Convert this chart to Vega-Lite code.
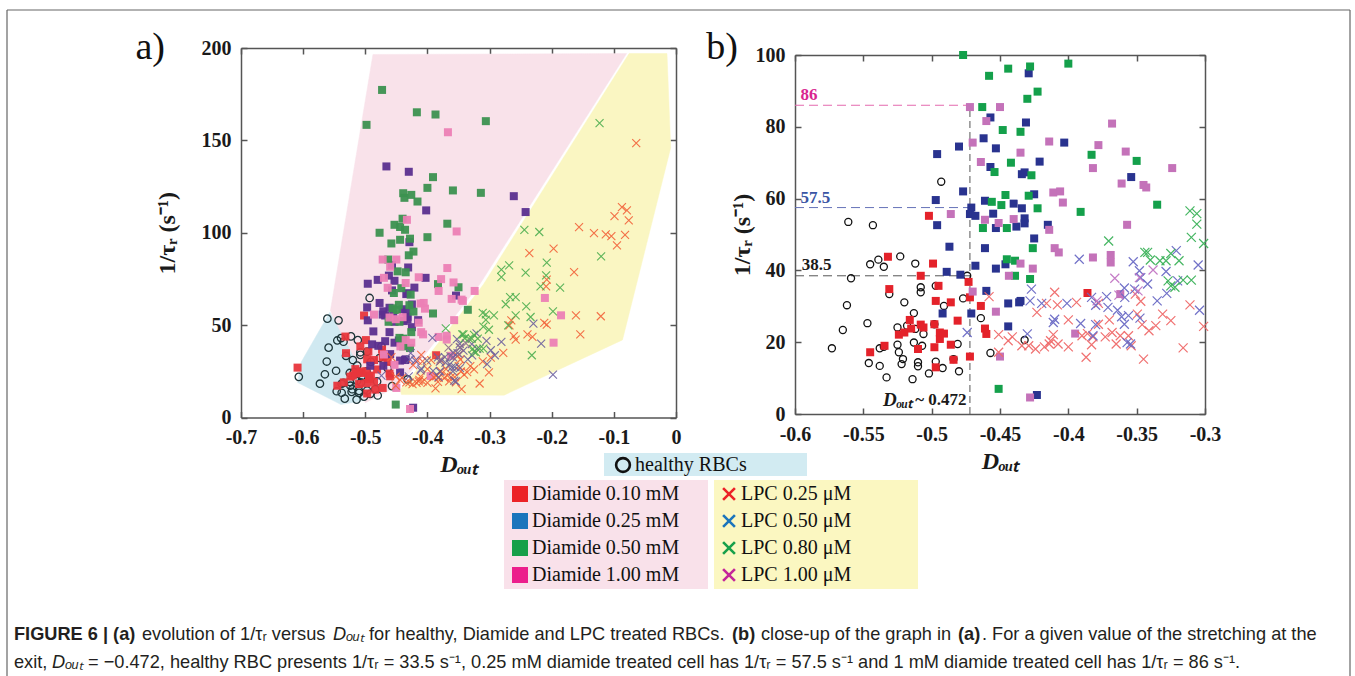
{
"$schema": "https://vega.github.io/schema/vega-lite/v6.json",
"width": 1355, "height": 676, "autosize": {"type": "none"}, "padding": 0,
"background": "white",
"config": {
  "view": {"stroke": null},
  "font": "Liberation Serif",
  "axis": {"domainColor": "#555", "domainWidth": 1.5, "tickColor": "#555", "tickWidth": 1.5, "tickSize": -6,
    "labelFont": "Liberation Serif", "labelFontSize": 20, "labelFontWeight": "bold", "labelColor": "#1a1a1a",
    "labelPadding": 16, "labelFlush": false, "labelOverlap": false, "grid": false,
    "titleFont": "Liberation Serif", "titleFontSize": 24, "titleFontWeight": "bold", "titleColor": "#1a1a1a"}
},
"datasets": {
  "regions": [
    {"r": "Diamide", "i": 0, "x": -0.4877, "y": 196.5}, {"r": "Diamide", "i": 1, "x": -0.0795, "y": 197.0},
    {"r": "Diamide", "i": 2, "x": -0.316, "y": 72}, {"r": "Diamide", "i": 3, "x": -0.404, "y": 34},
    {"r": "Diamide", "i": 4, "x": -0.447, "y": 17}, {"r": "Diamide", "i": 5, "x": -0.50, "y": 8},
    {"r": "Diamide", "i": 6, "x": -0.556, "y": 58},
    {"r": "LPC", "i": 0, "x": -0.0755, "y": 197}, {"r": "LPC", "i": 1, "x": -0.0145, "y": 197},
    {"r": "LPC", "i": 2, "x": -0.0085, "y": 146}, {"r": "LPC", "i": 3, "x": -0.0861, "y": 42},
    {"r": "LPC", "i": 4, "x": -0.2766, "y": 12.1}, {"r": "LPC", "i": 5, "x": -0.4418, "y": 12.4},
    {"r": "LPC", "i": 6, "x": -0.444, "y": 15}, {"r": "LPC", "i": 7, "x": -0.398, "y": 33.5},
    {"r": "LPC", "i": 8, "x": -0.310, "y": 72},
    {"r": "healthy", "i": 0, "x": -0.557, "y": 57}, {"r": "healthy", "i": 1, "x": -0.603, "y": 30},
    {"r": "healthy", "i": 2, "x": -0.609, "y": 19}, {"r": "healthy", "i": 3, "x": -0.539, "y": 7},
    {"r": "healthy", "i": 4, "x": -0.505, "y": 9}, {"r": "healthy", "i": 5, "x": -0.492, "y": 16}
  ],
  "pts": [
    {"s":"healthy RBCs","x":-0.573,"y":18.3},{"s":"healthy RBCs","x":-0.565,"y":23.4},{"s":"healthy RBCs","x":-0.562,"y":30.3},
    {"s":"healthy RBCs","x":-0.561,"y":53.5},{"s":"healthy RBCs","x":-0.559,"y":37.8},{"s":"healthy RBCs","x":-0.547,"y":25.3},
    {"s":"healthy RBCs","x":-0.546,"y":14.2},{"s":"healthy RBCs","x":-0.545,"y":41.7},{"s":"healthy RBCs","x":-0.543,"y":52.6},
    {"s":"healthy RBCs","x":-0.539,"y":43.0},{"s":"healthy RBCs","x":-0.538,"y":13.4},{"s":"healthy RBCs","x":-0.538,"y":18.3},
    {"s":"healthy RBCs","x":-0.535,"y":41.0},{"s":"healthy RBCs","x":-0.535,"y":18.7},{"s":"healthy RBCs","x":-0.533,"y":10.2},
    {"s":"healthy RBCs","x":-0.531,"y":33.4},{"s":"healthy RBCs","x":-0.525,"y":24.1},{"s":"healthy RBCs","x":-0.525,"y":19.3},
    {"s":"healthy RBCs","x":-0.524,"y":17.2},{"s":"healthy RBCs","x":-0.523,"y":43.9},{"s":"healthy RBCs","x":-0.522,"y":13.9},
    {"s":"healthy RBCs","x":-0.521,"y":15.3},{"s":"healthy RBCs","x":-0.520,"y":31.1},{"s":"healthy RBCs","x":-0.518,"y":24.6},
    {"s":"healthy RBCs","x":-0.514,"y":9.7},{"s":"healthy RBCs","x":-0.513,"y":19.9},{"s":"healthy RBCs","x":-0.513,"y":28.1},
    {"s":"healthy RBCs","x":-0.512,"y":41.9},{"s":"healthy RBCs","x":-0.512,"y":23.7},{"s":"healthy RBCs","x":-0.510,"y":13.3},
    {"s":"healthy RBCs","x":-0.510,"y":14.4},{"s":"healthy RBCs","x":-0.508,"y":33.9},{"s":"healthy RBCs","x":-0.508,"y":35.3},
    {"s":"healthy RBCs","x":-0.507,"y":19.0},{"s":"healthy RBCs","x":-0.506,"y":22.3},{"s":"healthy RBCs","x":-0.502,"y":11.3},
    {"s":"healthy RBCs","x":-0.498,"y":25.0},{"s":"healthy RBCs","x":-0.497,"y":35.7},{"s":"healthy RBCs","x":-0.497,"y":14.6},
    {"s":"healthy RBCs","x":-0.492,"y":12.8},{"s":"healthy RBCs","x":-0.491,"y":30.1},{"s":"healthy RBCs","x":-0.493,"y":64.7},
    {"s":"healthy RBCs","x":-0.481,"y":19.5},{"s":"healthy RBCs","x":-0.480,"y":11.9},{"s":"healthy RBCs","x":-0.477,"y":32.2},
    {"s":"healthy RBCs","x":-0.474,"y":38.5},{"s":"healthy RBCs","x":-0.464,"y":26.7},{"s":"healthy RBCs","x":-0.457,"y":17.0},
    {"s":"healthy RBCs","x":-0.432,"y":20.6},{"s":"healthy RBCs","x":-0.484,"y":15.3},{"s":"healthy RBCs","x":-0.607,"y":22.0},

    {"s":"Diamide 0.10 mM","x":-0.532,"y":43.8},{"s":"Diamide 0.10 mM","x":-0.531,"y":34.8},{"s":"Diamide 0.10 mM","x":-0.545,"y":17.2},
    {"s":"Diamide 0.10 mM","x":-0.5345,"y":19.0},{"s":"Diamide 0.10 mM","x":-0.524,"y":22.1},{"s":"Diamide 0.10 mM","x":-0.520,"y":22.7},
    {"s":"Diamide 0.10 mM","x":-0.516,"y":26.2},{"s":"Diamide 0.10 mM","x":-0.515,"y":23.8},{"s":"Diamide 0.10 mM","x":-0.510,"y":18.1},
    {"s":"Diamide 0.10 mM","x":-0.508,"y":24.9},{"s":"Diamide 0.10 mM","x":-0.506,"y":24.1},{"s":"Diamide 0.10 mM","x":-0.502,"y":55.2},
    {"s":"Diamide 0.10 mM","x":-0.499,"y":41.9},{"s":"Diamide 0.10 mM","x":-0.498,"y":25.0},{"s":"Diamide 0.10 mM","x":-0.498,"y":18.6},
    {"s":"Diamide 0.10 mM","x":-0.497,"y":31.5},{"s":"Diamide 0.10 mM","x":-0.497,"y":13.0},{"s":"Diamide 0.10 mM","x":-0.495,"y":35.7},
    {"s":"Diamide 0.10 mM","x":-0.494,"y":20.9},{"s":"Diamide 0.10 mM","x":-0.494,"y":22.7},{"s":"Diamide 0.10 mM","x":-0.491,"y":22.4},
    {"s":"Diamide 0.10 mM","x":-0.486,"y":31.1},{"s":"Diamide 0.10 mM","x":-0.486,"y":19.3},{"s":"Diamide 0.10 mM","x":-0.484,"y":15.1},
    {"s":"Diamide 0.10 mM","x":-0.481,"y":26.0},{"s":"Diamide 0.10 mM","x":-0.508,"y":38.5},{"s":"Diamide 0.10 mM","x":-0.473,"y":36.8},
    {"s":"Diamide 0.10 mM","x":-0.472,"y":32.5},{"s":"Diamide 0.10 mM","x":-0.472,"y":16.0},{"s":"Diamide 0.10 mM","x":-0.464,"y":30.1},
    {"s":"Diamide 0.10 mM","x":-0.461,"y":23.8},{"s":"Diamide 0.10 mM","x":-0.460,"y":22.3},{"s":"Diamide 0.10 mM","x":-0.386,"y":33.7},
    {"s":"Diamide 0.10 mM","x":-0.609,"y":27.0},

    {"s":"Diamide 0.25 mM","x":-0.496,"y":72.4},{"s":"Diamide 0.25 mM","x":-0.497,"y":59.6},{"s":"Diamide 0.25 mM","x":-0.496,"y":52.6},
    {"s":"Diamide 0.25 mM","x":-0.487,"y":46.6},{"s":"Diamide 0.25 mM","x":-0.489,"y":39.6},{"s":"Diamide 0.25 mM","x":-0.492,"y":28.0},
    {"s":"Diamide 0.25 mM","x":-0.480,"y":74.5},{"s":"Diamide 0.25 mM","x":-0.477,"y":62.0},{"s":"Diamide 0.25 mM","x":-0.479,"y":38.8},
    {"s":"Diamide 0.25 mM","x":-0.471,"y":57.5},{"s":"Diamide 0.25 mM","x":-0.472,"y":55.7},{"s":"Diamide 0.25 mM","x":-0.468,"y":55.2},
    {"s":"Diamide 0.25 mM","x":-0.468,"y":41.3},{"s":"Diamide 0.25 mM","x":-0.471,"y":28.0},{"s":"Diamide 0.25 mM","x":-0.462,"y":76.8},
    {"s":"Diamide 0.25 mM","x":-0.457,"y":82.6},{"s":"Diamide 0.25 mM","x":-0.461,"y":59.4},{"s":"Diamide 0.25 mM","x":-0.461,"y":46.2},
    {"s":"Diamide 0.25 mM","x":-0.460,"y":34.3},{"s":"Diamide 0.25 mM","x":-0.457,"y":68.8},{"s":"Diamide 0.25 mM","x":-0.455,"y":55.8},
    {"s":"Diamide 0.25 mM","x":-0.453,"y":51.8},{"s":"Diamide 0.25 mM","x":-0.453,"y":74.0},{"s":"Diamide 0.25 mM","x":-0.453,"y":40.5},
    {"s":"Diamide 0.25 mM","x":-0.446,"y":41.7},{"s":"Diamide 0.25 mM","x":-0.444,"y":30.8},{"s":"Diamide 0.25 mM","x":-0.444,"y":24.4},
    {"s":"Diamide 0.25 mM","x":-0.440,"y":58.6},{"s":"Diamide 0.25 mM","x":-0.438,"y":52.2},{"s":"Diamide 0.25 mM","x":-0.436,"y":31.1},
    {"s":"Diamide 0.25 mM","x":-0.435,"y":31.5},{"s":"Diamide 0.25 mM","x":-0.434,"y":57.3},{"s":"Diamide 0.25 mM","x":-0.434,"y":66.8},
    {"s":"Diamide 0.25 mM","x":-0.432,"y":67.3},{"s":"Diamide 0.25 mM","x":-0.432,"y":53.1},{"s":"Diamide 0.25 mM","x":-0.432,"y":54.5},
    {"s":"Diamide 0.25 mM","x":-0.431,"y":81.2},{"s":"Diamide 0.25 mM","x":-0.429,"y":94.9},{"s":"Diamide 0.25 mM","x":-0.425,"y":61.2},
    {"s":"Diamide 0.25 mM","x":-0.425,"y":48.9},{"s":"Diamide 0.25 mM","x":-0.421,"y":70.3},{"s":"Diamide 0.25 mM","x":-0.423,"y":5.3},
    {"s":"Diamide 0.25 mM","x":-0.415,"y":52.7},{"s":"Diamide 0.25 mM","x":-0.403,"y":75.6},{"s":"Diamide 0.25 mM","x":-0.354,"y":66.0},
    {"s":"Diamide 0.25 mM","x":-0.466,"y":135.9},{"s":"Diamide 0.25 mM","x":-0.430,"y":133.0},{"s":"Diamide 0.25 mM","x":-0.402,"y":112.1},
    {"s":"Diamide 0.25 mM","x":-0.261,"y":119.8},{"s":"Diamide 0.25 mM","x":-0.242,"y":111.2},

    {"s":"Diamide 0.50 mM","x":-0.477,"y":100.0},{"s":"Diamide 0.50 mM","x":-0.458,"y":94.2},{"s":"Diamide 0.50 mM","x":-0.444,"y":96.2},
    {"s":"Diamide 0.50 mM","x":-0.428,"y":96.8},{"s":"Diamide 0.50 mM","x":-0.400,"y":97.6},{"s":"Diamide 0.50 mM","x":-0.4225,"y":89.8},
    {"s":"Diamide 0.50 mM","x":-0.430,"y":87.8},{"s":"Diamide 0.50 mM","x":-0.463,"y":85.5},{"s":"Diamide 0.50 mM","x":-0.448,"y":79.1},
    {"s":"Diamide 0.50 mM","x":-0.435,"y":78.6},{"s":"Diamide 0.50 mM","x":-0.442,"y":70.0},{"s":"Diamide 0.50 mM","x":-0.454,"y":67.4},
    {"s":"Diamide 0.50 mM","x":-0.427,"y":66.5},{"s":"Diamide 0.50 mM","x":-0.446,"y":61.0},{"s":"Diamide 0.50 mM","x":-0.429,"y":60.8},
    {"s":"Diamide 0.50 mM","x":-0.456,"y":59.1},{"s":"Diamide 0.50 mM","x":-0.449,"y":58.2},{"s":"Diamide 0.50 mM","x":-0.4225,"y":57.3},
    {"s":"Diamide 0.50 mM","x":-0.4625,"y":51.8},{"s":"Diamide 0.50 mM","x":-0.445,"y":51.8},{"s":"Diamide 0.50 mM","x":-0.445,"y":43.1},
    {"s":"Diamide 0.50 mM","x":-0.439,"y":42.7},{"s":"Diamide 0.50 mM","x":-0.426,"y":46.2},{"s":"Diamide 0.50 mM","x":-0.439,"y":38.5},
    {"s":"Diamide 0.50 mM","x":-0.428,"y":37.6},{"s":"Diamide 0.50 mM","x":-0.451,"y":7.0},{"s":"Diamide 0.50 mM","x":-0.383,"y":72.2},
    {"s":"Diamide 0.50 mM","x":-0.350,"y":70.5},{"s":"Diamide 0.50 mM","x":-0.391,"y":56.3},{"s":"Diamide 0.50 mM","x":-0.335,"y":58.3},
    {"s":"Diamide 0.50 mM","x":-0.473,"y":177.3},{"s":"Diamide 0.50 mM","x":-0.498,"y":158.4},{"s":"Diamide 0.50 mM","x":-0.417,"y":165.2},
    {"s":"Diamide 0.50 mM","x":-0.387,"y":164.0},{"s":"Diamide 0.50 mM","x":-0.306,"y":160.4},{"s":"Diamide 0.50 mM","x":-0.391,"y":130.1},
    {"s":"Diamide 0.50 mM","x":-0.400,"y":124.3},{"s":"Diamide 0.50 mM","x":-0.359,"y":122.9},{"s":"Diamide 0.50 mM","x":-0.314,"y":121.6},
    {"s":"Diamide 0.50 mM","x":-0.439,"y":121.4},{"s":"Diamide 0.50 mM","x":-0.426,"y":120.5},{"s":"Diamide 0.50 mM","x":-0.437,"y":118.9},
    {"s":"Diamide 0.50 mM","x":-0.416,"y":116.9},{"s":"Diamide 0.50 mM","x":-0.453,"y":104.3},{"s":"Diamide 0.50 mM","x":-0.444,"y":103.1},
    {"s":"Diamide 0.50 mM","x":-0.436,"y":101.6},{"s":"Diamide 0.50 mM","x":-0.368,"y":104.9},{"s":"Diamide 0.50 mM","x":-0.440,"y":107.6},

    {"s":"Diamide 1.00 mM","x":-0.472,"y":85.5},{"s":"Diamide 1.00 mM","x":-0.450,"y":85.5},{"s":"Diamide 1.00 mM","x":-0.460,"y":81.6},
    {"s":"Diamide 1.00 mM","x":-0.470,"y":75.6},{"s":"Diamide 1.00 mM","x":-0.464,"y":70.2},{"s":"Diamide 1.00 mM","x":-0.435,"y":72.8},
    {"s":"Diamide 1.00 mM","x":-0.414,"y":75.9},{"s":"Diamide 1.00 mM","x":-0.378,"y":74.9},{"s":"Diamide 1.00 mM","x":-0.368,"y":80.9},
    {"s":"Diamide 1.00 mM","x":-0.382,"y":68.5},{"s":"Diamide 1.00 mM","x":-0.358,"y":73.1},{"s":"Diamide 1.00 mM","x":-0.324,"y":68.5},
    {"s":"Diamide 1.00 mM","x":-0.361,"y":64.2},{"s":"Diamide 1.00 mM","x":-0.345,"y":63.8},{"s":"Diamide 1.00 mM","x":-0.343,"y":63.1},
    {"s":"Diamide 1.00 mM","x":-0.411,"y":61.7},{"s":"Diamide 1.00 mM","x":-0.406,"y":62.0},{"s":"Diamide 1.00 mM","x":-0.404,"y":58.9},
    {"s":"Diamide 1.00 mM","x":-0.486,"y":55.7},{"s":"Diamide 1.00 mM","x":-0.461,"y":54.1},{"s":"Diamide 1.00 mM","x":-0.451,"y":53.2},
    {"s":"Diamide 1.00 mM","x":-0.440,"y":54.3},{"s":"Diamide 1.00 mM","x":-0.414,"y":51.3},{"s":"Diamide 1.00 mM","x":-0.357,"y":52.7},
    {"s":"Diamide 1.00 mM","x":-0.410,"y":46.2},{"s":"Diamide 1.00 mM","x":-0.407,"y":45.0},{"s":"Diamide 1.00 mM","x":-0.435,"y":41.9},
    {"s":"Diamide 1.00 mM","x":-0.426,"y":40.5},{"s":"Diamide 1.00 mM","x":-0.382,"y":43.6},{"s":"Diamide 1.00 mM","x":-0.369,"y":44.3},
    {"s":"Diamide 1.00 mM","x":-0.369,"y":42.2},{"s":"Diamide 1.00 mM","x":-0.4435,"y":38.5},{"s":"Diamide 1.00 mM","x":-0.470,"y":34.1},
    {"s":"Diamide 1.00 mM","x":-0.362,"y":33.4},{"s":"Diamide 1.00 mM","x":-0.453,"y":28.5},{"s":"Diamide 1.00 mM","x":-0.395,"y":22.4},
    {"s":"Diamide 1.00 mM","x":-0.450,"y":16.0},{"s":"Diamide 1.00 mM","x":-0.428,"y":4.6},{"s":"Diamide 1.00 mM","x":-0.367,"y":154.4},
    {"s":"Diamide 1.00 mM","x":-0.433,"y":107.0},{"s":"Diamide 1.00 mM","x":-0.353,"y":100.7},{"s":"Diamide 1.00 mM","x":-0.211,"y":64.7},
    {"s":"Diamide 1.00 mM","x":-0.185,"y":55.3},{"s":"Diamide 1.00 mM","x":-0.197,"y":40.5},

    {"s":"LPC 0.25 μM","x":-0.458,"y":32.7},{"s":"LPC 0.25 μM","x":-0.451,"y":22.1},{"s":"LPC 0.25 μM","x":-0.451,"y":17.2},
    {"s":"LPC 0.25 μM","x":-0.444,"y":20.4},{"s":"LPC 0.25 μM","x":-0.441,"y":21.5},{"s":"LPC 0.25 μM","x":-0.434,"y":19.0},
    {"s":"LPC 0.25 μM","x":-0.429,"y":19.0},{"s":"LPC 0.25 μM","x":-0.424,"y":18.1},{"s":"LPC 0.25 μM","x":-0.423,"y":28.3},
    {"s":"LPC 0.25 μM","x":-0.4175,"y":18.7},{"s":"LPC 0.25 μM","x":-0.414,"y":19.5},{"s":"LPC 0.25 μM","x":-0.416,"y":30.8},
    {"s":"LPC 0.25 μM","x":-0.413,"y":20.4},{"s":"LPC 0.25 μM","x":-0.411,"y":22.1},{"s":"LPC 0.25 μM","x":-0.410,"y":33.9},
    {"s":"LPC 0.25 μM","x":-0.408,"y":30.4},{"s":"LPC 0.25 μM","x":-0.4075,"y":19.5},{"s":"LPC 0.25 μM","x":-0.400,"y":18.7},
    {"s":"LPC 0.25 μM","x":-0.400,"y":26.2},{"s":"LPC 0.25 μM","x":-0.394,"y":31.1},{"s":"LPC 0.25 μM","x":-0.390,"y":21.8},
    {"s":"LPC 0.25 μM","x":-0.387,"y":15.8},{"s":"LPC 0.25 μM","x":-0.386,"y":22.4},{"s":"LPC 0.25 μM","x":-0.383,"y":19.3},
    {"s":"LPC 0.25 μM","x":-0.382,"y":21.5},{"s":"LPC 0.25 μM","x":-0.378,"y":25.0},{"s":"LPC 0.25 μM","x":-0.378,"y":30.8},
    {"s":"LPC 0.25 μM","x":-0.373,"y":21.5},{"s":"LPC 0.25 μM","x":-0.370,"y":26.2},{"s":"LPC 0.25 μM","x":-0.368,"y":22.7},
    {"s":"LPC 0.25 μM","x":-0.365,"y":19.5},{"s":"LPC 0.25 μM","x":-0.362,"y":21.8},{"s":"LPC 0.25 μM","x":-0.356,"y":21.8},
    {"s":"LPC 0.25 μM","x":-0.354,"y":19.0},{"s":"LPC 0.25 μM","x":-0.351,"y":33.4},{"s":"LPC 0.25 μM","x":-0.3495,"y":27.8},
    {"s":"LPC 0.25 μM","x":-0.346,"y":24.9},{"s":"LPC 0.25 μM","x":-0.347,"y":31.4},{"s":"LPC 0.25 μM","x":-0.345,"y":15.3},
    {"s":"LPC 0.25 μM","x":-0.341,"y":23.2},{"s":"LPC 0.25 μM","x":-0.336,"y":24.6},{"s":"LPC 0.25 μM","x":-0.331,"y":27.8},
    {"s":"LPC 0.25 μM","x":-0.325,"y":26.0},{"s":"LPC 0.25 μM","x":-0.316,"y":18.4},{"s":"LPC 0.25 μM","x":-0.311,"y":30.4},
    {"s":"LPC 0.25 μM","x":-0.301,"y":24.4},{"s":"LPC 0.25 μM","x":-0.156,"y":103.1},{"s":"LPC 0.25 μM","x":-0.132,"y":99.8},
    {"s":"LPC 0.25 μM","x":-0.113,"y":99.1},{"s":"LPC 0.25 μM","x":-0.104,"y":98.2},{"s":"LPC 0.25 μM","x":-0.099,"y":109.0},
    {"s":"LPC 0.25 μM","x":-0.087,"y":113.9},{"s":"LPC 0.25 μM","x":-0.079,"y":112.1},{"s":"LPC 0.25 μM","x":-0.076,"y":106.7},
    {"s":"LPC 0.25 μM","x":-0.082,"y":98.9},{"s":"LPC 0.25 μM","x":-0.095,"y":93.2},{"s":"LPC 0.25 μM","x":-0.064,"y":148.5},
    {"s":"LPC 0.25 μM","x":-0.164,"y":78.7},{"s":"LPC 0.25 μM","x":-0.197,"y":91.4},{"s":"LPC 0.25 μM","x":-0.236,"y":89.0},
    {"s":"LPC 0.25 μM","x":-0.208,"y":74.6},{"s":"LPC 0.25 μM","x":-0.209,"y":71.0},{"s":"LPC 0.25 μM","x":-0.121,"y":54.8},
    {"s":"LPC 0.25 μM","x":-0.161,"y":55.3},{"s":"LPC 0.25 μM","x":-0.154,"y":45.0},{"s":"LPC 0.25 μM","x":-0.212,"y":51.2},
    {"s":"LPC 0.25 μM","x":-0.208,"y":50.3},{"s":"LPC 0.25 μM","x":-0.265,"y":52.6},{"s":"LPC 0.25 μM","x":-0.261,"y":44.0},
    {"s":"LPC 0.25 μM","x":-0.239,"y":45.0},{"s":"LPC 0.25 μM","x":-0.231,"y":43.6},{"s":"LPC 0.25 μM","x":-0.258,"y":42.2},
    {"s":"LPC 0.25 μM","x":-0.278,"y":35.0},{"s":"LPC 0.25 μM","x":-0.298,"y":32.4},{"s":"LPC 0.25 μM","x":-0.268,"y":49.9},

    {"s":"LPC 0.50 μM","x":-0.474,"y":22.7},{"s":"LPC 0.50 μM","x":-0.427,"y":34.8},{"s":"LPC 0.50 μM","x":-0.428,"y":31.5},
    {"s":"LPC 0.50 μM","x":-0.430,"y":22.3},{"s":"LPC 0.50 μM","x":-0.4195,"y":30.8},{"s":"LPC 0.50 μM","x":-0.411,"y":25.5},
    {"s":"LPC 0.50 μM","x":-0.410,"y":26.4},{"s":"LPC 0.50 μM","x":-0.401,"y":30.8},{"s":"LPC 0.50 μM","x":-0.392,"y":43.1},
    {"s":"LPC 0.50 μM","x":-0.391,"y":25.2},{"s":"LPC 0.50 μM","x":-0.383,"y":32.5},{"s":"LPC 0.50 μM","x":-0.382,"y":21.8},
    {"s":"LPC 0.50 μM","x":-0.380,"y":24.9},{"s":"LPC 0.50 μM","x":-0.380,"y":30.3},{"s":"LPC 0.50 μM","x":-0.372,"y":32.7},
    {"s":"LPC 0.50 μM","x":-0.371,"y":29.7},{"s":"LPC 0.50 μM","x":-0.364,"y":28.9},{"s":"LPC 0.50 μM","x":-0.361,"y":27.1},
    {"s":"LPC 0.50 μM","x":-0.359,"y":25.0},{"s":"LPC 0.50 μM","x":-0.359,"y":35.1},{"s":"LPC 0.50 μM","x":-0.3587,"y":32.5},
    {"s":"LPC 0.50 μM","x":-0.357,"y":19.9},{"s":"LPC 0.50 μM","x":-0.356,"y":27.4},{"s":"LPC 0.50 μM","x":-0.3545,"y":19.5},
    {"s":"LPC 0.50 μM","x":-0.3525,"y":42.4},{"s":"LPC 0.50 μM","x":-0.3515,"y":34.8},{"s":"LPC 0.50 μM","x":-0.348,"y":39.9},
    {"s":"LPC 0.50 μM","x":-0.3476,"y":26.7},{"s":"LPC 0.50 μM","x":-0.347,"y":38.0},{"s":"LPC 0.50 μM","x":-0.342,"y":36.2},
    {"s":"LPC 0.50 μM","x":-0.335,"y":31.5},{"s":"LPC 0.50 μM","x":-0.3285,"y":39.7},{"s":"LPC 0.50 μM","x":-0.328,"y":33.6},
    {"s":"LPC 0.50 μM","x":-0.321,"y":45.5},{"s":"LPC 0.50 μM","x":-0.320,"y":37.1},{"s":"LPC 0.50 μM","x":-0.305,"y":41.5},
    {"s":"LPC 0.50 μM","x":-0.304,"y":28.9},{"s":"LPC 0.50 μM","x":-0.198,"y":23.2},{"s":"LPC 0.50 μM","x":-0.281,"y":40.9},
    {"s":"LPC 0.50 μM","x":-0.298,"y":36.4},{"s":"LPC 0.50 μM","x":-0.2915,"y":33.7},{"s":"LPC 0.50 μM","x":-0.2295,"y":50.8},
    {"s":"LPC 0.50 μM","x":-0.217,"y":40.0},

    {"s":"LPC 0.80 μM","x":-0.3705,"y":48.2},{"s":"LPC 0.80 μM","x":-0.344,"y":45.0},{"s":"LPC 0.80 μM","x":-0.342,"y":45.0},
    {"s":"LPC 0.80 μM","x":-0.340,"y":42.9},{"s":"LPC 0.80 μM","x":-0.333,"y":42.7},{"s":"LPC 0.80 μM","x":-0.3285,"y":42.7},
    {"s":"LPC 0.80 μM","x":-0.327,"y":37.1},{"s":"LPC 0.80 μM","x":-0.325,"y":35.7},{"s":"LPC 0.80 μM","x":-0.322,"y":35.3},
    {"s":"LPC 0.80 μM","x":-0.319,"y":42.7},{"s":"LPC 0.80 μM","x":-0.316,"y":37.3},{"s":"LPC 0.80 μM","x":-0.310,"y":37.3},
    {"s":"LPC 0.80 μM","x":-0.311,"y":56.6},{"s":"LPC 0.80 μM","x":-0.306,"y":55.8},{"s":"LPC 0.80 μM","x":-0.306,"y":52.9},
    {"s":"LPC 0.80 μM","x":-0.310,"y":49.2},{"s":"LPC 0.80 μM","x":-0.301,"y":47.5},{"s":"LPC 0.80 μM","x":-0.325,"y":44.7},
    {"s":"LPC 0.80 μM","x":-0.123,"y":159.3},{"s":"LPC 0.80 μM","x":-0.1205,"y":87.2},{"s":"LPC 0.80 μM","x":-0.244,"y":101.6},
    {"s":"LPC 0.80 μM","x":-0.220,"y":100.4},{"s":"LPC 0.80 μM","x":-0.208,"y":83.8},{"s":"LPC 0.80 μM","x":-0.2685,"y":82.3},
    {"s":"LPC 0.80 μM","x":-0.281,"y":80.0},{"s":"LPC 0.80 μM","x":-0.281,"y":76.0},{"s":"LPC 0.80 μM","x":-0.242,"y":78.4},
    {"s":"LPC 0.80 μM","x":-0.209,"y":76.9},{"s":"LPC 0.80 μM","x":-0.1865,"y":70.3},{"s":"LPC 0.80 μM","x":-0.218,"y":71.0},
    {"s":"LPC 0.80 μM","x":-0.267,"y":65.2},{"s":"LPC 0.80 μM","x":-0.258,"y":65.2},{"s":"LPC 0.80 μM","x":-0.274,"y":61.3},
    {"s":"LPC 0.80 μM","x":-0.241,"y":60.2},{"s":"LPC 0.80 μM","x":-0.198,"y":57.5},{"s":"LPC 0.80 μM","x":-0.234,"y":54.4},
    {"s":"LPC 0.80 μM","x":-0.258,"y":55.3},{"s":"LPC 0.80 μM","x":-0.293,"y":55.3},{"s":"LPC 0.80 μM","x":-0.270,"y":49.9},
    {"s":"LPC 0.80 μM","x":-0.232,"y":33.7},

    {"s":"LPC 1.00 μM","x":-0.366,"y":37.8},{"s":"LPC 1.00 μM","x":-0.348,"y":38.0},{"s":"LPC 1.00 μM","x":-0.338,"y":40.1},
    {"s":"LPC 1.00 μM","x":-0.363,"y":33.1},{"s":"LPC 1.00 μM","x":-0.379,"y":31.5},{"s":"LPC 1.00 μM","x":-0.349,"y":34.3}
  ]
},
"layer": [
  {
    "layer": [
      {"data": {"values": [
         {"box": "healthy", "x": 604, "x2": 807, "y": 453, "y2": 476},
         {"box": "Diamide", "x": 504, "x2": 708, "y": 480, "y2": 589},
         {"box": "LPC", "x": 714, "x2": 918, "y": 480, "y2": 589}
       ]},
       "mark": {"type": "rect"},
       "encoding": {
         "x": {"field": "x", "type": "quantitative", "scale": {"domain": [0, 1355], "range": [0, 1355], "nice": false, "zero": false}, "axis": null},
         "y": {"field": "y", "type": "quantitative", "scale": {"domain": [0, 676], "range": [0, 676], "nice": false, "zero": false}, "axis": null},
         "x2": {"field": "x2"}, "y2": {"field": "y2"},
         "color": {"field": "box", "type": "nominal", "legend": null,
                   "scale": {"domain": ["healthy", "Diamide", "LPC"], "range": ["#d2ebf2", "#f9e1ea", "#fbf7c1"]}}
       }},
      {"data": {"values": [{"x": 7, "y": 10, "x2": 1350, "y2": 10}, {"x": 7, "y": 10, "x2": 7, "y2": 676}, {"x": 1350, "y": 10, "x2": 1350, "y2": 676}]},
       "mark": {"type": "rule", "stroke": "#666666", "strokeWidth": 1.2},
       "encoding": {
         "x": {"field": "x", "type": "quantitative", "scale": {"domain": [0, 1355], "range": [0, 1355], "nice": false, "zero": false}, "axis": null},
         "y": {"field": "y", "type": "quantitative", "scale": {"domain": [0, 676], "range": [0, 676], "nice": false, "zero": false}, "axis": null},
         "x2": {"field": "x2"}, "y2": {"field": "y2"}
       }},
      {"data": {"values": [
         {"x": 142, "y": 635, "t": "evolution of 1/τᵣ versus"},
         {"x": 369, "y": 635, "t": "for healthy, Diamide and LPC treated RBCs."},
         {"x": 761, "y": 635, "t": "close-up of the graph in"},
         {"x": 982, "y": 635, "t": ". For a given value of the stretching at the"},
         {"x": 14, "y": 663, "t": "exit,"},
         {"x": 88, "y": 663, "t": "= −0.472, healthy RBC presents 1/τᵣ = 33.5 s⁻¹, 0.25 mM diamide treated cell has 1/τᵣ = 57.5 s⁻¹ and 1 mM diamide treated cell has 1/τᵣ = 86 s⁻¹."}
       ]},
       "mark": {"type": "text", "font": "Liberation Sans", "fontSize": 18.2, "align": "left", "baseline": "middle", "color": "#231f20"},
       "encoding": {
         "x": {"field": "x", "type": "quantitative", "scale": {"domain": [0, 1355], "range": [0, 1355], "nice": false, "zero": false}, "axis": null},
         "y": {"field": "y", "type": "quantitative", "scale": {"domain": [0, 676], "range": [0, 676], "nice": false, "zero": false}, "axis": null},
         "text": {"field": "t"}
       }},
      {"data": {"values": [
         {"x": 14, "y": 635, "t": "FIGURE 6 | (a)"},
         {"x": 732, "y": 635, "t": "(b)"},
         {"x": 958, "y": 635, "t": "(a)"}
       ]},
       "mark": {"type": "text", "font": "Liberation Sans", "fontSize": 18.2, "fontWeight": "bold", "align": "left", "baseline": "middle", "color": "#231f20"},
       "encoding": {
         "x": {"field": "x", "type": "quantitative", "scale": {"domain": [0, 1355], "range": [0, 1355], "nice": false, "zero": false}, "axis": null},
         "y": {"field": "y", "type": "quantitative", "scale": {"domain": [0, 676], "range": [0, 676], "nice": false, "zero": false}, "axis": null},
         "text": {"field": "t"}
       }},
      {"data": {"values": [
         {"x": 333, "y": 635, "t": "Dₒᵤₜ"},
         {"x": 52, "y": 663, "t": "Dₒᵤₜ"}
       ]},
       "mark": {"type": "text", "font": "Liberation Sans", "fontSize": 18.2, "fontStyle": "italic", "align": "left", "baseline": "middle", "color": "#231f20"},
       "encoding": {
         "x": {"field": "x", "type": "quantitative", "scale": {"domain": [0, 1355], "range": [0, 1355], "nice": false, "zero": false}, "axis": null},
         "y": {"field": "y", "type": "quantitative", "scale": {"domain": [0, 676], "range": [0, 676], "nice": false, "zero": false}, "axis": null},
         "text": {"field": "t"}
       }}
    ]
  },
  {
    "layer": [
      {"data": {"name": "regions"}, "transform": [{"filter": "datum.r == 'Diamide'"}],
       "mark": {"type": "line", "interpolate": "linear-closed", "fill": "#f9e2ea", "stroke": "#f9e2ea", "strokeWidth": 0.5},
       "encoding": {
         "x": {"field": "x", "type": "quantitative", "scale": {"domain": [-0.7, 0], "range": [241, 676], "nice": false, "zero": false},
               "axis": {"orient": "bottom", "offset": -258.5, "values": [-0.7, -0.6, -0.5, -0.4, -0.3, -0.2, -0.1, 0],
                        "labelExpr": "datum.value < 0 ? '-' + format(-datum.value, '~g') : format(datum.value, '~g')",
                        "title": "Dₒᵤₜ", "titleFontStyle": "italic", "titlePadding": 5}},
         "y": {"field": "y", "type": "quantitative", "scale": {"domain": [0, 200], "range": [417.5, 48], "nice": false, "zero": false},
               "axis": {"orient": "left", "offset": -241, "values": [0, 50, 100, 150, 200], "title": "1/τᵣ (s⁻¹)", "titlePadding": 22}},
         "order": {"field": "i", "type": "quantitative"}
       }},
      {"data": {"name": "regions"}, "transform": [{"filter": "datum.r == 'healthy'"}],
       "mark": {"type": "line", "interpolate": "linear-closed", "fill": "#d0e9f1", "stroke": "#d0e9f1", "strokeWidth": 0.5},
       "encoding": {
         "x": {"field": "x", "type": "quantitative", "scale": {"domain": [-0.7, 0], "range": [241, 676], "nice": false, "zero": false}, "axis": null},
         "y": {"field": "y", "type": "quantitative", "scale": {"domain": [0, 200], "range": [417.5, 48], "nice": false, "zero": false}, "axis": null},
         "order": {"field": "i", "type": "quantitative"}
       }},
      {"data": {"name": "regions"}, "transform": [{"filter": "datum.r == 'LPC'"}],
       "mark": {"type": "line", "interpolate": "linear-closed", "fill": "#faf6c2", "stroke": "#faf6c2", "strokeWidth": 0.5},
       "encoding": {
         "x": {"field": "x", "type": "quantitative", "scale": {"domain": [-0.7, 0], "range": [241, 676], "nice": false, "zero": false}, "axis": null},
         "y": {"field": "y", "type": "quantitative", "scale": {"domain": [0, 200], "range": [417.5, 48], "nice": false, "zero": false}, "axis": null},
         "order": {"field": "i", "type": "quantitative"}
       }},
      {"data": {"name": "pts"}, "transform": [{"filter": "datum.s == 'healthy RBCs'"}],
       "mark": {"type": "point", "shape": "circle", "filled": false, "size": 55, "strokeWidth": 1.3, "opacity": 1},
       "encoding": {
         "x": {"field": "x", "type": "quantitative", "scale": {"domain": [-0.7, 0], "range": [241, 676], "nice": false, "zero": false},
               "axis": {"orient": "top", "offset": -48, "values": [-0.7, -0.6, -0.5, -0.4, -0.3, -0.2, -0.1, 0], "labels": false, "title": null}},
         "y": {"field": "y", "type": "quantitative", "scale": {"domain": [0, 200], "range": [417.5, 48], "nice": false, "zero": false},
               "axis": {"orient": "right", "offset": -679, "values": [0, 50, 100, 150, 200], "labels": false, "title": null}},
         "color": {"field": "s", "type": "nominal", "legend": null,
                   "scale": {"domain": ["healthy RBCs", "Diamide 0.10 mM", "Diamide 0.25 mM", "Diamide 0.50 mM", "Diamide 1.00 mM", "LPC 0.25 μM", "LPC 0.50 μM", "LPC 0.80 μM", "LPC 1.00 μM"],
                             "range": ["#1d3438", "#e8363c", "#5b2f8f", "#3c9150", "#ec7fb5", "#f3623a", "#6b5f9e", "#4cae4f", "#8d6b8f"]}}
       }},
      {"data": {"name": "pts"}, "transform": [{"filter": "indexof(datum.s, 'Diamide') == 0"}],
       "mark": {"type": "square", "filled": true, "size": 64, "opacity": 0.95},
       "encoding": {
         "x": {"field": "x", "type": "quantitative", "scale": {"domain": [-0.7, 0], "range": [241, 676], "nice": false, "zero": false}, "axis": null},
         "y": {"field": "y", "type": "quantitative", "scale": {"domain": [0, 200], "range": [417.5, 48], "nice": false, "zero": false}, "axis": null},
         "color": {"field": "s", "type": "nominal", "legend": null,
                   "scale": {"domain": ["healthy RBCs", "Diamide 0.10 mM", "Diamide 0.25 mM", "Diamide 0.50 mM", "Diamide 1.00 mM", "LPC 0.25 μM", "LPC 0.50 μM", "LPC 0.80 μM", "LPC 1.00 μM"],
                             "range": ["#1d3438", "#e8363c", "#5b2f8f", "#3c9150", "#ec7fb5", "#f3623a", "#6b5f9e", "#4cae4f", "#8d6b8f"]}}
       }},
      {"data": {"name": "pts"}, "transform": [{"filter": "indexof(datum.s, 'LPC') == 0"}],
       "mark": {"type": "point", "shape": "M-1,-1L1,1M-1,1L1,-1", "filled": false, "size": 64, "strokeWidth": 1.1, "opacity": 0.9},
       "encoding": {
         "x": {"field": "x", "type": "quantitative", "scale": {"domain": [-0.7, 0], "range": [241, 676], "nice": false, "zero": false}, "axis": null},
         "y": {"field": "y", "type": "quantitative", "scale": {"domain": [0, 200], "range": [417.5, 48], "nice": false, "zero": false}, "axis": null},
         "color": {"field": "s", "type": "nominal", "legend": null,
                   "scale": {"domain": ["healthy RBCs", "Diamide 0.10 mM", "Diamide 0.25 mM", "Diamide 0.50 mM", "Diamide 1.00 mM", "LPC 0.25 μM", "LPC 0.50 μM", "LPC 0.80 μM", "LPC 1.00 μM"],
                             "range": ["#1d3438", "#e8363c", "#5b2f8f", "#3c9150", "#ec7fb5", "#f3623a", "#6b5f9e", "#4cae4f", "#8d6b8f"]}}
       }},
      {"data": {"values": [{"x": -0.846, "y": 200, "t": "a)"}]},
       "mark": {"type": "text", "font": "Liberation Serif", "fontSize": 38, "align": "center", "baseline": "middle", "color": "#111"},
       "encoding": {
         "x": {"field": "x", "type": "quantitative", "scale": {"domain": [-0.7, 0], "range": [241, 676], "nice": false, "zero": false}, "axis": null},
         "y": {"field": "y", "type": "quantitative", "scale": {"domain": [0, 200], "range": [417.5, 48], "nice": false, "zero": false}, "axis": null},
         "text": {"field": "t"}
       }}
    ],
    "resolve": {"axis": {"x": "independent", "y": "independent"}}
  },
  {
    "layer": [
      {"data": {"values": [{"x": -0.6, "x2": -0.472, "y": 86}]},
       "mark": {"type": "rule", "stroke": "#e46aae", "strokeDash": [9, 5], "strokeWidth": 1},
       "encoding": {
         "x": {"field": "x", "type": "quantitative", "scale": {"domain": [-0.6, -0.3], "range": [795, 1205], "nice": false, "zero": false},
               "axis": {"orient": "bottom", "offset": -262, "values": [-0.6, -0.55, -0.5, -0.45, -0.4, -0.35, -0.3],
                        "labelExpr": "datum.value < 0 ? '-' + format(-datum.value, '~g') : format(datum.value, '~g')",
                        "title": "Dₒᵤₜ", "titleFontStyle": "italic", "titlePadding": 5}},
         "x2": {"field": "x2"},
         "y": {"field": "y", "type": "quantitative", "scale": {"domain": [0, 100], "range": [414, 55], "nice": false, "zero": false},
               "axis": {"orient": "left", "offset": -795, "values": [0, 20, 40, 60, 80, 100], "title": "1/τᵣ (s⁻¹)", "titlePadding": 1}}
       }},
      {"data": {"values": [{"x": -0.6, "x2": -0.472, "y": 57.5}]},
       "mark": {"type": "rule", "stroke": "#6673b8", "strokeDash": [9, 5], "strokeWidth": 1},
       "encoding": {
         "x": {"field": "x", "type": "quantitative", "scale": {"domain": [-0.6, -0.3], "range": [795, 1205], "nice": false, "zero": false}, "axis": null},
         "x2": {"field": "x2"},
         "y": {"field": "y", "type": "quantitative", "scale": {"domain": [0, 100], "range": [414, 55], "nice": false, "zero": false}, "axis": null}
       }},
      {"data": {"values": [{"x": -0.6, "x2": -0.472, "y": 38.5}]},
       "mark": {"type": "rule", "stroke": "#555555", "strokeDash": [9, 5], "strokeWidth": 1},
       "encoding": {
         "x": {"field": "x", "type": "quantitative", "scale": {"domain": [-0.6, -0.3], "range": [795, 1205], "nice": false, "zero": false}, "axis": null},
         "x2": {"field": "x2"},
         "y": {"field": "y", "type": "quantitative", "scale": {"domain": [0, 100], "range": [414, 55], "nice": false, "zero": false}, "axis": null}
       }},
      {"data": {"values": [{"x": -0.472, "y": 0, "y2": 86}]},
       "mark": {"type": "rule", "stroke": "#555555", "strokeDash": [7, 4], "strokeWidth": 1},
       "encoding": {
         "x": {"field": "x", "type": "quantitative", "scale": {"domain": [-0.6, -0.3], "range": [795, 1205], "nice": false, "zero": false}, "axis": null},
         "y": {"field": "y", "type": "quantitative", "scale": {"domain": [0, 100], "range": [414, 55], "nice": false, "zero": false}, "axis": null},
         "y2": {"field": "y2"}
       }},
      {"data": {"name": "pts"}, "transform": [{"filter": "datum.x >= -0.6 && datum.x <= -0.3 && datum.y <= 100.5"}, {"filter": "datum.s == 'healthy RBCs'"}],
       "mark": {"type": "point", "shape": "circle", "filled": false, "size": 50, "strokeWidth": 1.3, "opacity": 1},
       "encoding": {
         "x": {"field": "x", "type": "quantitative", "scale": {"domain": [-0.6, -0.3], "range": [795, 1205], "nice": false, "zero": false},
               "axis": {"orient": "top", "offset": -55, "values": [-0.6, -0.55, -0.5, -0.45, -0.4, -0.35, -0.3], "labels": false, "title": null}},
         "y": {"field": "y", "type": "quantitative", "scale": {"domain": [0, 100], "range": [414, 55], "nice": false, "zero": false},
               "axis": {"orient": "right", "offset": -150, "values": [0, 20, 40, 60, 80, 100], "labels": false, "title": null}},
         "color": {"field": "s", "type": "nominal", "legend": null,
                   "scale": {"domain": ["healthy RBCs", "Diamide 0.10 mM", "Diamide 0.25 mM", "Diamide 0.50 mM", "Diamide 1.00 mM", "LPC 0.25 μM", "LPC 0.50 μM", "LPC 0.80 μM", "LPC 1.00 μM"],
                             "range": ["#111111", "#e4222a", "#29338f", "#14a04b", "#c472b9", "#f06b6b", "#6b6bc6", "#3db35b", "#c276c4"]}}
       }},
      {"data": {"name": "pts"}, "transform": [{"filter": "datum.x >= -0.6 && datum.x <= -0.3 && datum.y <= 100.5"}, {"filter": "indexof(datum.s, 'Diamide') == 0"}],
       "mark": {"type": "square", "filled": true, "size": 64, "opacity": 1},
       "encoding": {
         "x": {"field": "x", "type": "quantitative", "scale": {"domain": [-0.6, -0.3], "range": [795, 1205], "nice": false, "zero": false}, "axis": null},
         "y": {"field": "y", "type": "quantitative", "scale": {"domain": [0, 100], "range": [414, 55], "nice": false, "zero": false}, "axis": null},
         "color": {"field": "s", "type": "nominal", "legend": null,
                   "scale": {"domain": ["healthy RBCs", "Diamide 0.10 mM", "Diamide 0.25 mM", "Diamide 0.50 mM", "Diamide 1.00 mM", "LPC 0.25 μM", "LPC 0.50 μM", "LPC 0.80 μM", "LPC 1.00 μM"],
                             "range": ["#111111", "#e4222a", "#29338f", "#14a04b", "#c472b9", "#f06b6b", "#6b6bc6", "#3db35b", "#c276c4"]}}
       }},
      {"data": {"name": "pts"}, "transform": [{"filter": "datum.x >= -0.6 && datum.x <= -0.3 && datum.y <= 100.5"}, {"filter": "indexof(datum.s, 'LPC') == 0"}],
       "mark": {"type": "point", "shape": "M-1,-1L1,1M-1,1L1,-1", "filled": false, "size": 81, "strokeWidth": 1.2, "opacity": 0.95},
       "encoding": {
         "x": {"field": "x", "type": "quantitative", "scale": {"domain": [-0.6, -0.3], "range": [795, 1205], "nice": false, "zero": false}, "axis": null},
         "y": {"field": "y", "type": "quantitative", "scale": {"domain": [0, 100], "range": [414, 55], "nice": false, "zero": false}, "axis": null},
         "color": {"field": "s", "type": "nominal", "legend": null,
                   "scale": {"domain": ["healthy RBCs", "Diamide 0.10 mM", "Diamide 0.25 mM", "Diamide 0.50 mM", "Diamide 1.00 mM", "LPC 0.25 μM", "LPC 0.50 μM", "LPC 0.80 μM", "LPC 1.00 μM"],
                             "range": ["#111111", "#e4222a", "#29338f", "#14a04b", "#c472b9", "#f06b6b", "#6b6bc6", "#3db35b", "#c276c4"]}}
       }},
      {"data": {"values": [{"x": -0.596, "y": 88.9, "t": "86"}]},
       "mark": {"type": "text", "font": "Liberation Serif", "fontSize": 17, "fontWeight": "bold", "align": "left", "baseline": "middle", "color": "#d9258f"},
       "encoding": {
         "x": {"field": "x", "type": "quantitative", "scale": {"domain": [-0.6, -0.3], "range": [795, 1205], "nice": false, "zero": false}, "axis": null},
         "y": {"field": "y", "type": "quantitative", "scale": {"domain": [0, 100], "range": [414, 55], "nice": false, "zero": false}, "axis": null},
         "text": {"field": "t"}
       }},
      {"data": {"values": [{"x": -0.596, "y": 60.3, "t": "57.5"}]},
       "mark": {"type": "text", "font": "Liberation Serif", "fontSize": 17, "fontWeight": "bold", "align": "left", "baseline": "middle", "color": "#3a55a4"},
       "encoding": {
         "x": {"field": "x", "type": "quantitative", "scale": {"domain": [-0.6, -0.3], "range": [795, 1205], "nice": false, "zero": false}, "axis": null},
         "y": {"field": "y", "type": "quantitative", "scale": {"domain": [0, 100], "range": [414, 55], "nice": false, "zero": false}, "axis": null},
         "text": {"field": "t"}
       }},
      {"data": {"values": [{"x": -0.595, "y": 41.6, "t": "38.5"}]},
       "mark": {"type": "text", "font": "Liberation Serif", "fontSize": 17, "fontWeight": "bold", "align": "left", "baseline": "middle", "color": "#1a1a1a"},
       "encoding": {
         "x": {"field": "x", "type": "quantitative", "scale": {"domain": [-0.6, -0.3], "range": [795, 1205], "nice": false, "zero": false}, "axis": null},
         "y": {"field": "y", "type": "quantitative", "scale": {"domain": [0, 100], "range": [414, 55], "nice": false, "zero": false}, "axis": null},
         "text": {"field": "t"}
       }},
      {"data": {"values": [{"x": -0.5356, "y": 3.9, "t": "Dₒᵤₜ"}]},
       "mark": {"type": "text", "font": "Liberation Serif", "fontSize": 19, "fontWeight": "bold", "fontStyle": "italic", "align": "left", "baseline": "middle", "color": "#1a1a1a"},
       "encoding": {
         "x": {"field": "x", "type": "quantitative", "scale": {"domain": [-0.6, -0.3], "range": [795, 1205], "nice": false, "zero": false}, "axis": null},
         "y": {"field": "y", "type": "quantitative", "scale": {"domain": [0, 100], "range": [414, 55], "nice": false, "zero": false}, "axis": null},
         "text": {"field": "t"}
       }},
      {"data": {"values": [{"x": -0.4745, "y": 3.9, "t": "~ 0.472"}]},
       "mark": {"type": "text", "font": "Liberation Serif", "fontSize": 17, "fontWeight": "bold", "align": "right", "baseline": "middle", "color": "#1a1a1a"},
       "encoding": {
         "x": {"field": "x", "type": "quantitative", "scale": {"domain": [-0.6, -0.3], "range": [795, 1205], "nice": false, "zero": false}, "axis": null},
         "y": {"field": "y", "type": "quantitative", "scale": {"domain": [0, 100], "range": [414, 55], "nice": false, "zero": false}, "axis": null},
         "text": {"field": "t"}
       }},
      {"data": {"values": [{"x": -0.6534, "y": 101.9, "t": "b)"}]},
       "mark": {"type": "text", "font": "Liberation Serif", "fontSize": 38, "align": "center", "baseline": "middle", "color": "#111"},
       "encoding": {
         "x": {"field": "x", "type": "quantitative", "scale": {"domain": [-0.6, -0.3], "range": [795, 1205], "nice": false, "zero": false}, "axis": null},
         "y": {"field": "y", "type": "quantitative", "scale": {"domain": [0, 100], "range": [414, 55], "nice": false, "zero": false}, "axis": null},
         "text": {"field": "t"}
       }}
    ],
    "resolve": {"axis": {"x": "independent", "y": "independent"}}
  },
  {
    "data": {"values": []},
    "mark": {"type": "point", "shape": "circle", "filled": false, "strokeWidth": 2.5},
    "encoding": {
      "color": {"field": "s", "type": "nominal",
        "scale": {"domain": ["healthy RBCs"], "range": ["#111111"]},
        "legend": {"orient": "none", "legendX": 604, "legendY": 453, "direction": "vertical", "title": null,
          "padding": 2, "symbolType": "circle", "symbolSize": 190, "symbolStrokeWidth": 2.6,
          "symbolFillColor": "transparent", "symbolOpacity": 1, "symbolOffset": 7,
          "labelFont": "Liberation Serif", "labelFontSize": 20, "labelColor": "#111", "labelOffset": 2, "labelLimit": 500}}
    }
  },
  {
    "data": {"values": []},
    "mark": {"type": "square", "filled": true},
    "encoding": {
      "color": {"field": "s", "type": "nominal",
        "scale": {"domain": ["Diamide 0.10 mM", "Diamide 0.25 mM", "Diamide 0.50 mM", "Diamide 1.00 mM"], "range": ["#ec2227", "#1b75bc", "#17a04a", "#ec1e8c"]},
        "legend": {"orient": "none", "legendX": 504, "legendY": 480, "direction": "vertical", "title": null,
          "padding": 4, "symbolType": "square", "symbolSize": 256, "symbolOpacity": 1, "symbolOffset": 2,
          "rowPadding": 7, "labelFont": "Liberation Serif", "labelFontSize": 20, "labelColor": "#111", "labelOffset": 2, "labelLimit": 500}}
    }
  },
  {
    "data": {"values": []},
    "mark": {"type": "point", "shape": "M-1,-1L1,1M-1,1L1,-1", "filled": false, "strokeWidth": 2.5},
    "encoding": {
      "color": {"field": "s", "type": "nominal",
        "scale": {"domain": ["LPC 0.25 μM", "LPC 0.50 μM", "LPC 0.80 μM", "LPC 1.00 μM"], "range": ["#ec2227", "#1b75bc", "#17a04a", "#c4269a"]},
        "legend": {"orient": "none", "legendX": 714, "legendY": 480, "direction": "vertical", "title": null,
          "padding": 4, "symbolType": "M-1,-1L1,1M-1,1L1,-1", "symbolSize": 140, "symbolStrokeWidth": 2.6,
          "symbolFillColor": "transparent", "symbolOpacity": 1, "symbolOffset": 1,
          "rowPadding": 3, "labelFont": "Liberation Serif", "labelFontSize": 20, "labelColor": "#111", "labelOffset": 2, "labelLimit": 500}}
    }
  }
],
"resolve": {"scale": {"x": "independent", "y": "independent", "color": "independent"}, "axis": {"x": "independent", "y": "independent"}, "legend": {"color": "independent"}}
}
